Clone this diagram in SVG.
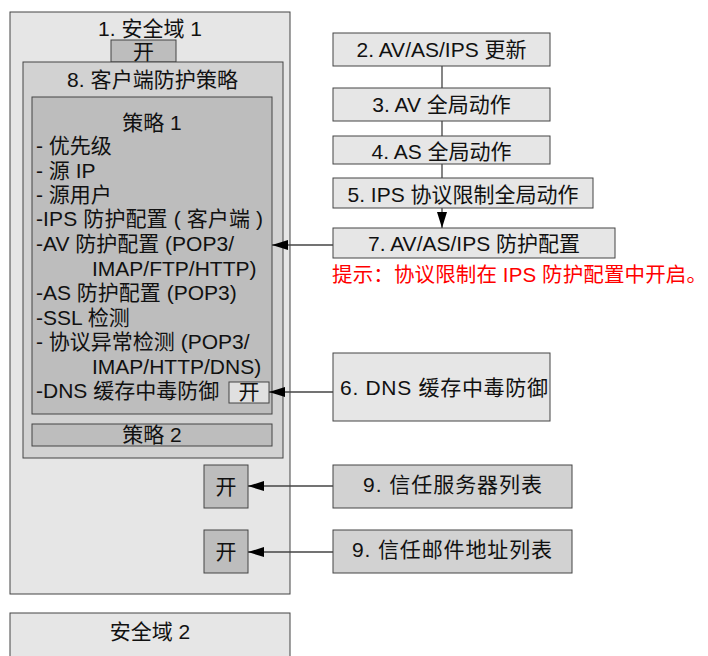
<svg xmlns="http://www.w3.org/2000/svg" width="708" height="656" viewBox="0 0 708 656">
<style>
text{font-family:"Liberation Sans","Noto Sans CJK SC",sans-serif;font-size:21px;fill:#111}
.c{text-anchor:middle}
.b{stroke:#444;stroke-width:1}
.l1{fill:#e6e6e6}
.l2{fill:#d2d2d2}
.l3{fill:#bdbdbd}
.ln{stroke:#444;stroke-width:1.3;fill:none}
.red{fill:#ff0000;font-size:20.5px}
</style>
<defs>
<marker id="ah" viewBox="0 0 16 10" refX="16" refY="5" markerWidth="16" markerHeight="10" markerUnits="userSpaceOnUse" orient="auto">
<path d="M0,0 L16,5 L0,10 Z" fill="#000"/>
</marker>
</defs>
<g id="domain1">
<rect class="b l1" x="10" y="12" width="280" height="582"/>
<text class="c" x="150" y="36">1. 安全域 1</text>
</g>
<g id="tab-open">
<rect class="b l3" x="111" y="40" width="65" height="22"/>
<text class="c" x="143.5" y="59">开</text>
</g>
<g id="client-policy">
<rect class="b l2" x="23" y="62" width="260" height="396"/>
<text x="67" y="87" textLength="171" lengthAdjust="spacing">8. 客户端防护策略</text>
</g>
<g id="policy1">
<rect class="b l3" x="32" y="97" width="240" height="317"/>
<text class="c" x="152" y="130">策略 1</text>
<text x="36" y="153">- 优先级</text>
<text x="36" y="177.5">- 源 IP</text>
<text x="36" y="202">- 源用户</text>
<text x="36" y="226" textLength="227" lengthAdjust="spacing">-IPS 防护配置 ( 客户端 )</text>
<text x="36" y="251">-AV 防护配置 (POP3/</text>
<text x="92" y="275.5">IMAP/FTP/HTTP)</text>
<text x="36" y="300">-AS 防护配置 (POP3)</text>
<text x="36" y="324.5">-SSL 检测</text>
<text x="36" y="349">- 协议异常检测 (POP3/</text>
<text x="92" y="373.5">IMAP/HTTP/DNS)</text>
<text x="36" y="398">-DNS 缓存中毒防御</text>
</g>
<g id="dns-open">
<rect class="b" fill="#e0e0e0" x="229" y="382" width="40" height="21"/>
<text class="c" x="249" y="399">开</text>
</g>
<g id="policy2">
<rect class="b l3" x="32" y="424" width="240" height="22"/>
<text class="c" x="152" y="442">策略 2</text>
</g>
<g id="open-server">
<rect class="b l3" x="204" y="465" width="44" height="43"/>
<text class="c" x="226" y="494">开</text>
</g>
<g id="open-mail">
<rect class="b l3" x="204" y="530" width="44" height="43"/>
<text class="c" x="226" y="559">开</text>
</g>
<g id="domain2">
<rect class="b l1" x="10" y="613" width="280" height="60"/>
<text class="c" x="150" y="639">安全域 2</text>
</g>
<g id="n2">
<rect class="b l1" x="333" y="33" width="217" height="33"/>
<text class="c" x="441.5" y="57">2. AV/AS/IPS 更新</text>
</g>
<g id="n3">
<rect class="b l1" x="333" y="88" width="217" height="33"/>
<text class="c" x="441.5" y="112">3. AV 全局动作</text>
</g>
<g id="n4">
<rect class="b l1" x="333" y="136" width="217" height="28"/>
<text class="c" x="441.5" y="159">4. AS 全局动作</text>
</g>
<g id="n5">
<rect class="b l1" x="333" y="178" width="260" height="30"/>
<text class="c" x="463" y="202">5. IPS 协议限制全局动作</text>
</g>
<g id="n7">
<rect class="b l1" x="333" y="228" width="282" height="30"/>
<text class="c" x="474" y="251">7. AV/AS/IPS 防护配置</text>
</g>
<g id="note">
<text class="red" x="332" y="282" textLength="375" lengthAdjust="spacing">提示：协议限制在 IPS 防护配置中开启。</text>
</g>
<g id="n6">
<rect class="b l1" x="333" y="353" width="217" height="68"/>
<text x="340" y="395" textLength="208" lengthAdjust="spacing">6. DNS 缓存中毒防御</text>
</g>
<g id="n9a">
<rect class="b l2" x="333" y="465" width="239" height="43"/>
<text x="363" y="492" textLength="179" lengthAdjust="spacing">9. 信任服务器列表</text>
</g>
<g id="n9b">
<rect class="b l2" x="333" y="530" width="239" height="43"/>
<text x="352" y="557" textLength="200" lengthAdjust="spacing">9. 信任邮件地址列表</text>
</g>
<g id="connectors">
<line class="ln" x1="442" y1="66" x2="442" y2="88"/>
<line class="ln" x1="442" y1="121" x2="442" y2="136"/>
<line class="ln" x1="442" y1="164" x2="442" y2="178"/>
<line class="ln" x1="442" y1="208" x2="442" y2="228" marker-end="url(#ah)"/>
<line class="ln" x1="333" y1="245" x2="272" y2="245" marker-end="url(#ah)"/>
<line class="ln" x1="333" y1="392" x2="269" y2="392" marker-end="url(#ah)"/>
<line class="ln" x1="333" y1="486" x2="248" y2="486" marker-end="url(#ah)"/>
<line class="ln" x1="333" y1="552" x2="248" y2="552" marker-end="url(#ah)"/>
</g>
</svg>
